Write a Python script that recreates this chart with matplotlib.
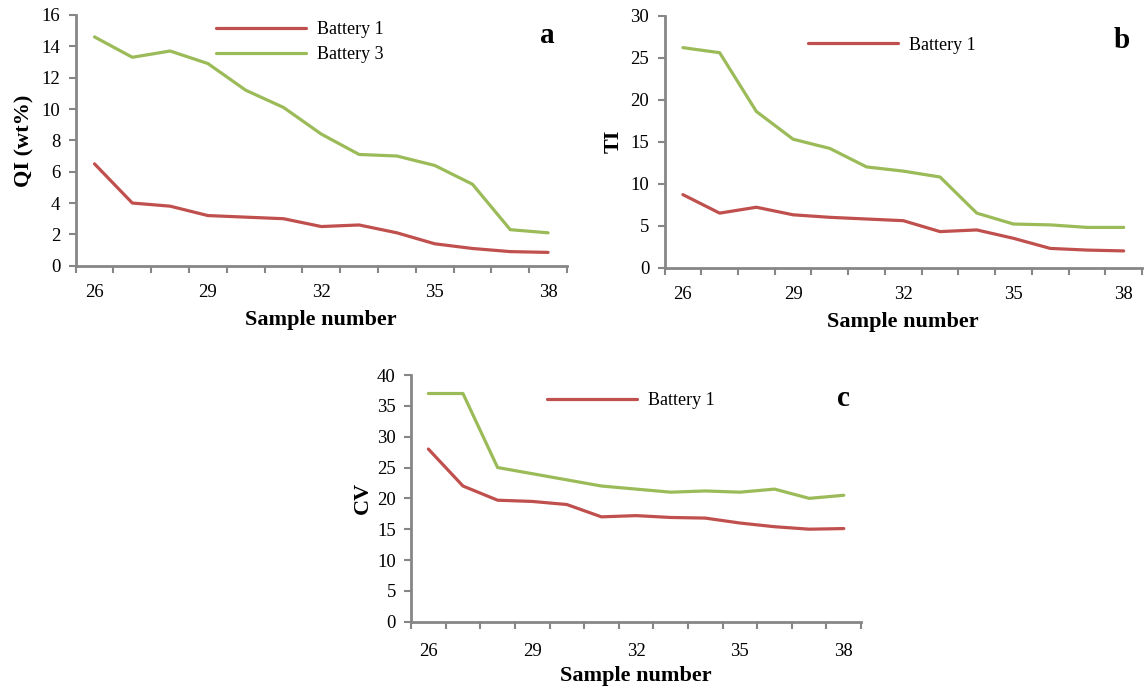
import matplotlib
matplotlib.use("Agg")
import matplotlib.pyplot as plt
import numpy as np

samples = list(range(26, 39))
tick_labels = ["26", "29", "32", "35", "38"]

qi_b1 = [6.5, 4.0, 3.8, 3.2, 3.1, 3.0, 2.5, 2.6, 2.1, 1.4, 1.1, 0.9, 0.85]
qi_b3 = [14.6, 13.3, 13.7, 12.9, 11.2, 10.1, 8.4, 7.1, 7.0, 6.4, 5.2, 2.3, 2.1]

ti_b1 = [8.7, 6.5, 7.2, 6.3, 6.0, 5.8, 5.6, 4.3, 4.5, 3.5, 2.3, 2.1, 2.0]
ti_b3 = [26.2, 25.6, 18.6, 15.3, 14.2, 12.0, 11.5, 10.8, 6.5, 5.2, 5.1, 4.8, 4.8]

cv_b1 = [28.0, 22.0, 19.7, 19.5, 19.0, 17.0, 17.2, 16.9, 16.8, 16.0, 15.4, 15.0, 15.1]
cv_b3 = [37.0, 37.0, 25.0, 24.0, 23.0, 22.0, 21.5, 21.0, 21.2, 21.0, 21.5, 20.0, 20.5]

RED = "#C0504D"
GREEN = "#9BBB59"
AXC = "#868686"
SERIF = "Liberation Serif"

fig = plt.figure(figsize=(11.44, 6.9), dpi=100)


def style_axis(ax, ymax, ystep, ylabel, letter, b1, b3, legend_b3, leg_anchor, letter_y,
               xpad, xlabelpad, ylabelpad):
    ax.plot(samples, b1, color=RED, lw=2.3, label="Battery 1", solid_capstyle="round")
    ax.plot(samples, b3, color=GREEN, lw=2.3, label="Battery 3", solid_capstyle="round")
    ax.set_xlim(samples[0] - 0.5, samples[-1] + 0.5)
    ax.set_ylim(0, ymax)
    yt = np.arange(0, ymax + 0.1, ystep)
    ax.set_yticks(yt)
    ax.set_yticklabels([f"{int(v)}" for v in yt], fontfamily=SERIF, fontsize=13.5)
    # category boundaries as tick marks
    ax.set_xticks(np.arange(samples[0] - 0.5, samples[-1] + 0.6, 1.0))
    ax.set_xticklabels([])
    ax.set_xticks([int(t) for t in tick_labels], minor=True)
    ax.set_xticklabels(tick_labels, minor=True, fontfamily=SERIF, fontsize=13.5)
    ax.tick_params(axis="x", which="major", direction="out", length=5, width=1.5, color=AXC)
    ax.tick_params(axis="x", which="minor", length=0, pad=xpad)
    ax.tick_params(axis="y", direction="out", length=5, width=1.5, color=AXC, pad=6)
    for s in ["top", "right"]:
        ax.spines[s].set_visible(False)
    for s in ["left", "bottom"]:
        ax.spines[s].set_color(AXC)
        ax.spines[s].set_linewidth(2)
    ax.set_xlabel("Sample number", fontfamily=SERIF, fontweight="bold", fontsize=16,
                  labelpad=xlabelpad)
    ax.set_ylabel(ylabel, fontfamily=SERIF, fontweight="bold", fontsize=16, labelpad=ylabelpad)
    ax.text(0.975, letter_y, letter, transform=ax.transAxes, ha="right", va="center",
            fontfamily=SERIF, fontweight="bold", fontsize=21)
    handles = ax.get_lines()[:2] if legend_b3 else ax.get_lines()[:1]
    ax.legend(handles=handles, loc="upper left", bbox_to_anchor=leg_anchor, frameon=False,
              handlelength=5.0, handletextpad=0.6, labelspacing=0.45,
              prop={"family": SERIF, "size": 13}, borderaxespad=0)


ax_a = fig.add_axes([0.0661, 0.6149, 0.4295, 0.3634])
style_axis(ax_a, 16, 2, "QI (wt%)", "a", qi_b1, qi_b3, True, (0.27, 1.005), 0.92,
           13, 7, 5)

ax_b = fig.add_axes([0.5809, 0.6120, 0.4174, 0.3652])
style_axis(ax_b, 30, 5, "TI", "b", ti_b1, ti_b3, False, (0.285, 0.945), 0.9,
           13, 7, 5)

ax_c = fig.add_axes([0.3593, 0.0990, 0.3934, 0.3575])
style_axis(ax_c, 40, 5, "CV", "c", cv_b1, cv_b3, False, (0.285, 0.96), 0.905,
           15, 5, 3)

fig.savefig("out.png", dpi=100)
